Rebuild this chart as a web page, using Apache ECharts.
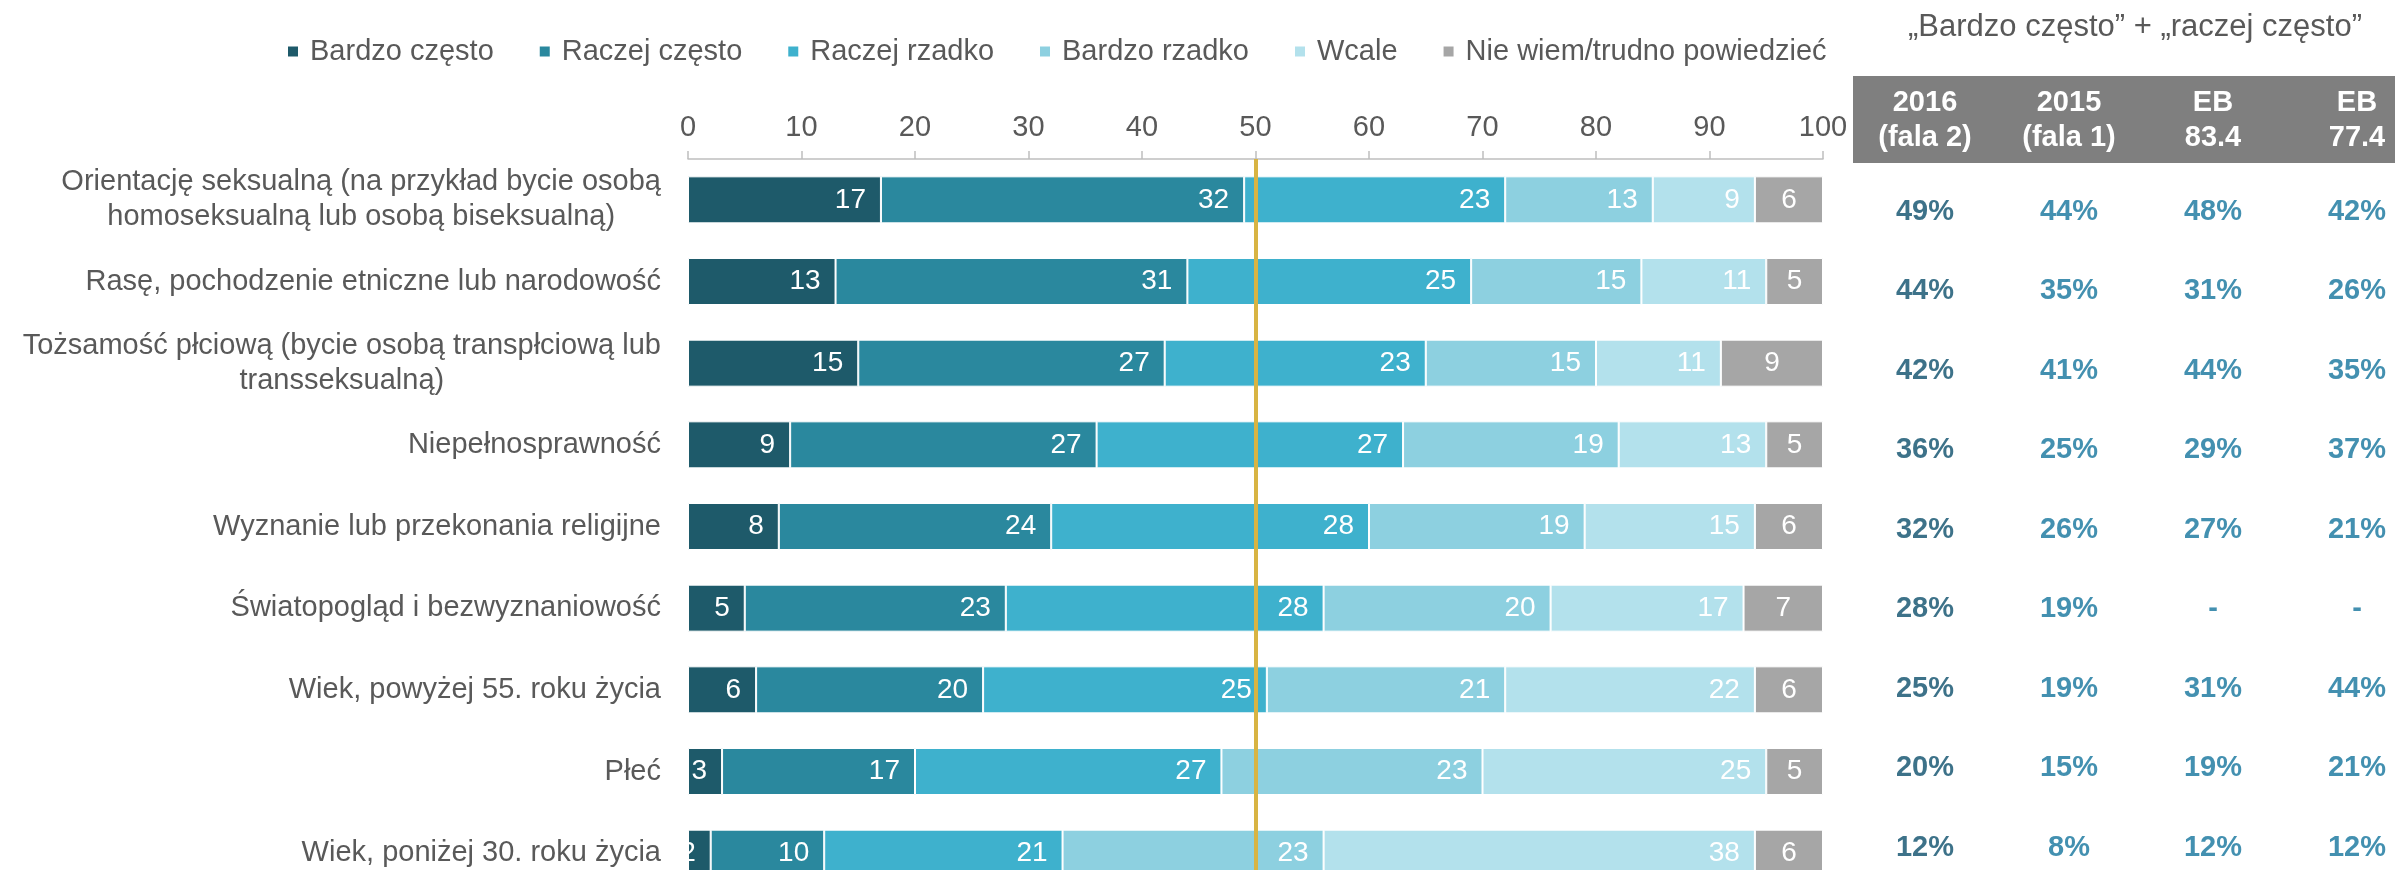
<!DOCTYPE html>
<html>
<head>
<meta charset="utf-8">
<script src="https://cdn.jsdelivr.net/npm/echarts@6/dist/echarts.min.js"></script>
<style>
    html, body { margin: 0; padding: 0; background: #fff; }
    #chart { width: 2395px; height: 870px; }
</style>
</head>
<body>
<div id="chart"></div>
<script>
const categories = [
    'Orientację seksualną (na przykład bycie osobą\nhomoseksualną lub osobą biseksualną)',
    'Rasę, pochodzenie etniczne lub narodowość',
    'Tożsamość płciową (bycie osobą transpłciową lub\ntransseksualną)',
    'Niepełnosprawność',
    'Wyznanie lub przekonania religijne',
    'Światopogląd i bezwyznaniowość',
    'Wiek, powyżej 55. roku życia',
    'Płeć',
    'Wiek, poniżej 30. roku życia'
];

const seriesNames = ['Bardzo często', 'Raczej często', 'Raczej rzadko', 'Bardzo rzadko', 'Wcale', 'Nie wiem/trudno powiedzieć'];
const bardzoCzesto = [17, 13, 15, 9, 8, 5, 6, 3, 2];
const raczejCzesto = [32, 31, 27, 27, 24, 23, 20, 17, 10];
const raczejRzadko = [23, 25, 23, 27, 28, 28, 25, 27, 21];
const bardzoRzadko = [13, 15, 15, 19, 19, 20, 21, 23, 23];
const wcale = [9, 11, 11, 13, 15, 17, 22, 25, 38];
const nieWiem = [6, 5, 9, 5, 6, 7, 6, 5, 6];

const xTicks = [0, 10, 20, 30, 40, 50, 60, 70, 80, 90, 100];

const tableTitle = '„Bardzo często” + „raczej często”';
const tableColumns = ['2016\n(fala 2)', '2015\n(fala 1)', 'EB\n83.4', 'EB\n77.4'];
const fala2016 = [49, 44, 42, 36, 32, 28, 25, 20, 12];
const fala2015 = [44, 35, 41, 25, 26, 19, 19, 15, 8];
const eb834 = [48, 31, 44, 29, 27, null, 31, 19, 12];
const eb774 = [42, 26, 35, 37, 21, null, 44, 21, 12];

const font = "'Liberation Sans', Arial, sans-serif";
const colors = ['#1e5a6a', '#2a889e', '#3eb1cd', '#8dd0e0', '#b3e1ec', '#a6a6a6'];
const tableColors = ['#0c4f6c', '#14749c', '#14749c', '#14749c'];

let chart = echarts.init(document.getElementById('chart'));

let barSeries = [bardzoCzesto, raczejCzesto, raczejRzadko, bardzoRzadko, wcale, nieWiem].map((values, i) => {
    let last = i === 5;
    let s = {
        name: seriesNames[i],
        type: 'bar',
        stack: 'total',
        xAxisIndex: 0,
        yAxisIndex: 0,
        barWidth: 47,
        data: values,
        itemStyle: { color: colors[i], borderColor: '#fff', borderWidth: 1 },
        label: {
            show: true,
            position: last ? 'inside' : 'insideRight',
            distance: 15,
            color: '#fff',
            fontSize: 28,
            fontFamily: font
        }
    };
    if (i === 0) {
        // pionowa linia na 50
        s.markLine = {
            silent: true,
            symbol: 'none',
            label: { show: false },
            lineStyle: { color: '#d8b443', width: 4, type: 'solid' },
            data: [{ xAxis: 50 }]
        };
    }
    return s;
});

let tableSeries = [fala2016, fala2015, eb834, eb774].map((values, c) => ({
    name: tableColumns[c],
    type: 'scatter',
    xAxisIndex: 1,
    yAxisIndex: 1,
    symbolSize: 1,
    itemStyle: { color: 'rgba(0,0,0,0)' },
    data: values.map((v, r) => ({ value: [c, r], pct: v })),
    label: {
        show: true,
        position: 'inside',
        fontSize: 29,
        fontWeight: 'bold',
        fontFamily: font,
        color: tableColors[c],
        formatter: (p) => p.data.pct == null ? '-' : p.data.pct + '%'
    }
}));

let option = {
    animation: false,
    title: {
        text: tableTitle,
        left: 1903,
        top: 7,
        textStyle: { fontSize: 31, fontWeight: 'normal', color: '#595959', fontFamily: font }
    },
    legend: {
        data: seriesNames,
        left: 281,
        top: 32,
        icon: 'rect',
        itemWidth: 12,
        itemHeight: 12,
        itemGap: 44,
        textStyle: { fontSize: 29, color: '#595959', fontFamily: font, padding: [0, 0, 0, 6] }
    },
    grid: [
        { left: 688, top: 159, width: 1135, height: 735, outerBoundsMode: 'none' },
        { left: 1853, top: 172, width: 576, height: 715.5, outerBoundsMode: 'none' }
    ],
    xAxis: [
        {
            type: 'value',
            gridIndex: 0,
            position: 'top',
            min: xTicks[0],
            max: xTicks[xTicks.length - 1],
            interval: 10,
            splitLine: { show: false },
            axisLine: { show: true, lineStyle: { color: '#bfbfbf', width: 1.5 } },
            axisTick: { show: true, length: 8, lineStyle: { color: '#bfbfbf', width: 1.5 } },
            axisLabel: { fontSize: 29, color: '#595959', fontFamily: font, margin: 17 }
        },
        {
            type: 'category',
            gridIndex: 1,
            position: 'top',
            data: tableColumns,
            axisLine: { show: false },
            axisTick: { show: false },
            axisLabel: {
                interval: 0,
                margin: 9,
                width: 144,
                align: 'center',
                padding: [9, 0, 8, 0],
                backgroundColor: '#7f7f7f',
                color: '#fff',
                fontSize: 29,
                fontWeight: 'bold',
                lineHeight: 35,
                fontFamily: font
            }
        }
    ],
    yAxis: [
        {
            type: 'category',
            gridIndex: 0,
            data: categories,
            inverse: true,
            axisLine: { show: false },
            axisTick: { show: false },
            axisLabel: {
                margin: 27,
                lineHeight: 35,
                formatter: (v) => v.split('\n').map(l => '{c|' + l + '}').join('\n'),
                rich: {
                    c: { align: 'center', fontSize: 29, lineHeight: 35, color: '#595959', fontFamily: font }
                }
            }
        },
        {
            type: 'category',
            gridIndex: 1,
            data: categories,
            inverse: true,
            show: false
        }
    ],
    series: barSeries.concat(tableSeries)
};

chart.setOption(option);
</script>
</body>
</html>
